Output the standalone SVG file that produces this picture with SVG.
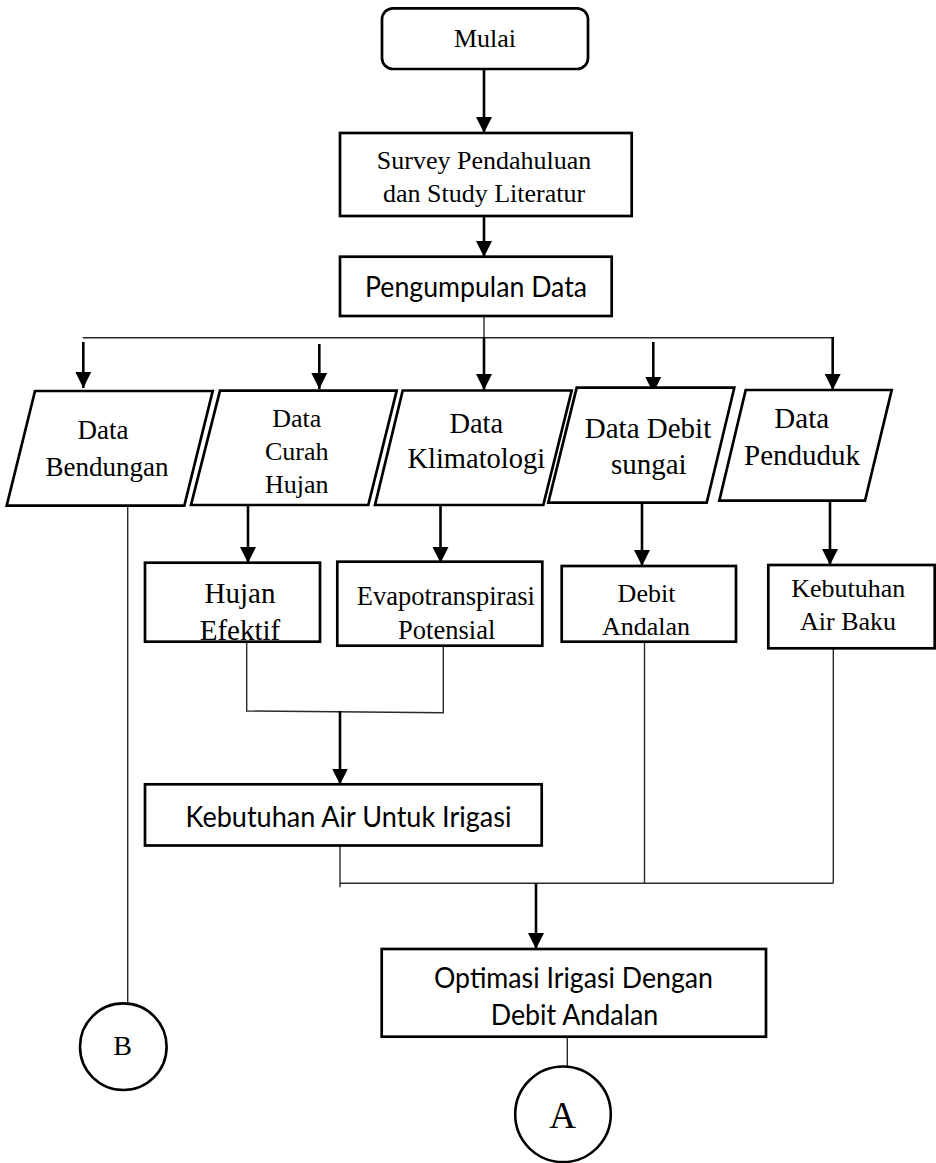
<svg xmlns="http://www.w3.org/2000/svg" width="936" height="1163" viewBox="0 0 936 1163">
  <defs>
    <marker id="head" markerUnits="userSpaceOnUse" markerWidth="16" markerHeight="16" refX="16" refY="8" orient="auto">
      <path d="M0,0 L16,8 L0,16 z" fill="#000"/>
    </marker>
    <style>
      .box { fill: #fff; stroke: #000; stroke-width: 2.7; }
      .serif { font-family: "Liberation Serif", "Times New Roman", serif; fill: #000; text-anchor: middle; }
      .sans { font-family: "Lato", "Open Sans", "Liberation Sans", sans-serif; fill: #000; text-anchor: middle; }
      .arrow { stroke: #000; stroke-width: 2.6; fill: none; marker-end: url(#head); }
      .thin { stroke: #2a2a2a; stroke-width: 1.4; fill: none; }
    </style>
  </defs>
  <rect width="936" height="1163" fill="#fff"/>

  <!-- connectors -->
  <g id="connectors">
    <line class="arrow" x1="484" y1="69" x2="484" y2="133"/>
    <line class="arrow" x1="484" y1="216" x2="484" y2="257"/>
    <!-- distribution bus below Pengumpulan Data -->
    <line class="thin" x1="484" y1="316" x2="484" y2="338"/>
    <polyline class="thin" points="82.7,337.7 832.7,337.7"/>
    <line class="arrow" x1="484" y1="337" x2="484" y2="390"/>
    <line class="arrow" x1="832.7" y1="337" x2="832.7" y2="390"/>
    <line class="arrow" x1="83.3" y1="342" x2="83.3" y2="388"/>
    <line class="arrow" x1="319.3" y1="344" x2="319.3" y2="389"/>
    <line class="arrow" x1="653.3" y1="342" x2="653.3" y2="393"/>
    <!-- data to processing -->
    <line class="arrow" x1="248" y1="505" x2="248" y2="563"/>
    <line class="arrow" x1="440.5" y1="505" x2="440.5" y2="563"/>
    <line class="arrow" x1="642" y1="503" x2="642" y2="566"/>
    <line class="arrow" x1="830" y1="501" x2="830" y2="565"/>
    <!-- merge of rain and evapotranspiration -->
    <polyline class="thin" points="246.7,641.7 246.7,711 443.3,712.7 443.3,645.7"/>
    <line class="arrow" x1="340" y1="711" x2="340" y2="784.5"/>
    <!-- merge into optimisation -->
    <line class="thin" x1="340" y1="843" x2="340" y2="887.3"/>
    <line class="thin" x1="340" y1="883.3" x2="833.3" y2="883.3"/>
    <line class="thin" x1="644.5" y1="641.7" x2="644.5" y2="883.3"/>
    <line class="thin" x1="833.3" y1="646" x2="833.3" y2="883.3"/>
    <line class="arrow" x1="536" y1="883" x2="536" y2="949"/>
    <!-- off-page connectors -->
    <line class="thin" x1="567.3" y1="1036.7" x2="567.3" y2="1067"/>
    <line class="thin" x1="127.7" y1="505.7" x2="127.7" y2="1004"/>
  </g>

  <g id="mulai">
    <rect class="box" x="382" y="8.3" width="206" height="60.7" rx="11"/>
    <text class="serif" x="485" y="47" font-size="26">Mulai</text>
  </g>

  <g id="survey">
    <rect class="box" x="340" y="133" width="291.7" height="83"/>
    <text class="serif" x="484" y="169" font-size="26">Survey Pendahuluan</text>
    <text class="serif" x="484" y="202" font-size="26">dan Study Literatur</text>
  </g>

  <g id="pengumpulan">
    <rect class="box" x="340" y="256.7" width="271.7" height="59.3"/>
    <text class="sans" x="476" y="297" font-size="28" textLength="222" lengthAdjust="spacingAndGlyphs">Pengumpulan Data</text>
  </g>

  <g id="data-bendungan">
    <polygon class="box" points="35,391 212.7,391 184.3,505.7 6.7,505.7"/>
    <text class="serif" x="103" y="439" font-size="27">Data</text>
    <text class="serif" x="107" y="475.7" font-size="27">Bendungan</text>
  </g>

  <g id="data-curah-hujan">
    <polygon class="box" points="220,390.7 396.7,390.7 368.3,505 191,505"/>
    <text class="serif" x="296.7" y="427.3" font-size="26">Data</text>
    <text class="serif" x="296.7" y="460" font-size="26">Curah</text>
    <text class="serif" x="296.7" y="492.7" font-size="26">Hujan</text>
  </g>

  <g id="data-klimatologi">
    <polygon class="box" points="402.7,390.5 571.7,390.5 543.3,505 375,505"/>
    <text class="serif" x="476.3" y="433.3" font-size="28.5">Data</text>
    <text class="serif" x="476.3" y="468" font-size="28.5">Klimatologi</text>
  </g>

  <g id="data-debit-sungai">
    <polygon class="box" points="576.7,387.7 734.3,387.7 706.7,502.7 548.3,502.7"/>
    <text class="serif" x="648" y="438.3" font-size="29">Data Debit</text>
    <text class="serif" x="648.8" y="474" font-size="29">sungai</text>
  </g>

  <g id="data-penduduk">
    <polygon class="box" points="745.7,390 891.7,390 865,500.7 719.3,500.7"/>
    <text class="serif" x="801.7" y="428.3" font-size="29">Data</text>
    <text class="serif" x="802" y="465" font-size="29">Penduduk</text>
  </g>

  <g id="hujan-efektif">
    <rect class="box" x="145" y="562.7" width="175" height="79"/>
    <text class="serif" x="240" y="603.3" font-size="29">Hujan</text>
    <text class="serif" x="240" y="640" font-size="29">Efektif</text>
  </g>

  <g id="evapotranspirasi">
    <rect class="box" x="337.3" y="561.7" width="205" height="84"/>
    <text class="serif" x="445.8" y="605" font-size="26.5">Evapotranspirasi</text>
    <text class="serif" x="446.7" y="639.3" font-size="26.5">Potensial</text>
  </g>

  <g id="debit-andalan">
    <rect class="box" x="561.7" y="566" width="174.3" height="75.7"/>
    <text class="serif" x="646.5" y="601.7" font-size="26">Debit</text>
    <text class="serif" x="646" y="635" font-size="26">Andalan</text>
  </g>

  <g id="kebutuhan-air-baku">
    <rect class="box" x="768.3" y="565" width="166.4" height="83.3"/>
    <text class="serif" x="848.3" y="596.7" font-size="26">Kebutuhan</text>
    <text class="serif" x="848" y="630" font-size="26">Air Baku</text>
  </g>

  <g id="kebutuhan-irigasi">
    <rect class="box" x="145" y="784.3" width="396.7" height="61.2"/>
    <text class="sans" x="348.5" y="827" font-size="28" textLength="326" lengthAdjust="spacingAndGlyphs">Kebutuhan Air Untuk Irigasi</text>
  </g>

  <g id="optimasi">
    <rect class="box" x="381.7" y="949" width="384.3" height="87.7"/>
    <text class="sans" x="573.5" y="988.3" font-size="28" textLength="279" lengthAdjust="spacingAndGlyphs">Optimasi Irigasi Dengan</text>
    <text class="sans" x="574.5" y="1025" font-size="28" textLength="167.7" lengthAdjust="spacingAndGlyphs">Debit Andalan</text>
  </g>

  <g id="connector-b">
    <circle cx="123.3" cy="1046.7" r="43.3" fill="#fff" stroke="#000" stroke-width="2.6"/>
    <text class="serif" x="122.7" y="1055" font-size="28">B</text>
  </g>

  <g id="connector-a">
    <circle cx="563" cy="1114.3" r="47.8" fill="#fff" stroke="#000" stroke-width="2.6"/>
    <text class="serif" x="562.7" y="1128.3" font-size="37">A</text>
  </g>
</svg>
